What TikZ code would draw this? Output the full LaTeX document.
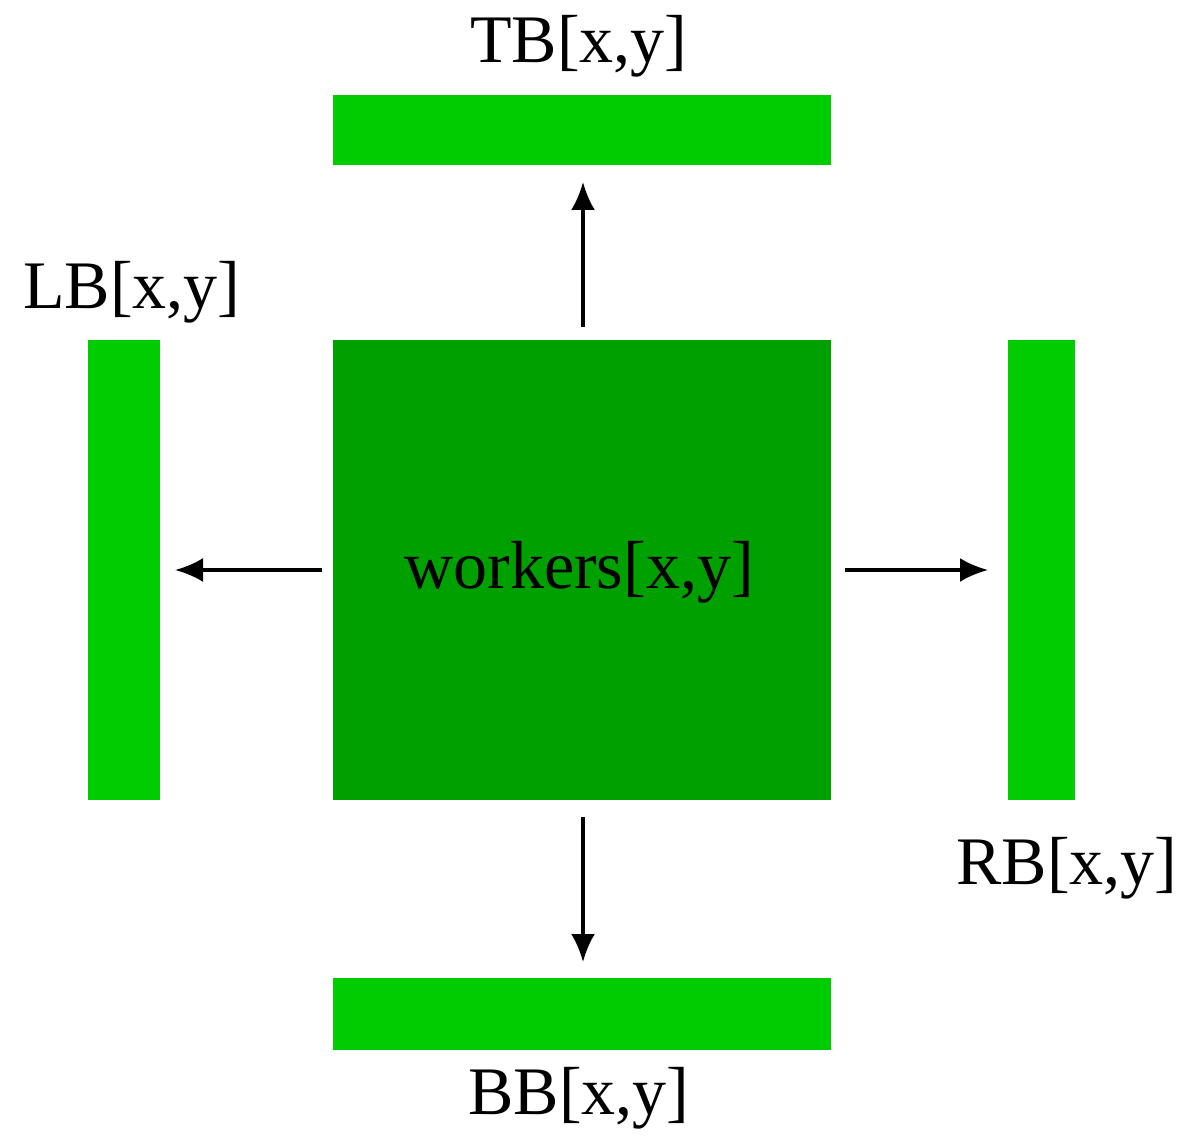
\documentclass[tikz,border=0pt]{standalone}
\usepackage{fontspec}
\setmainfont{Liberation Serif}
\usetikzlibrary{arrows.meta}
\definecolor{barg}{RGB}{0,204,0}
\definecolor{darkg}{RGB}{0,160,0}
\begin{document}
\begin{tikzpicture}[x=1pt,y=-1pt,
  bar/.style={fill=barg,inner sep=0pt,outer sep=0pt},
  lbl/.style={inner sep=0pt,font=\fontsize{68}{76}\selectfont},
  conn/.style={line width=3.5pt,-{Latex[length=28pt,width=24pt]}}]
\useasboundingbox (0,0) rectangle (1184,1147);
\fill[white] (0,0) rectangle (1184,1147);
\node[fill=darkg,inner sep=0pt,minimum width=498pt,minimum height=460pt] (W) at (582,570) {};
\node[lbl] (wt) at (579,572) {workers[x,y]};
\node[bar,minimum width=498pt,minimum height=70pt] (TB) at (582,130) {};
\node[bar,minimum width=498pt,minimum height=72pt] (BB) at (582,1014) {};
\node[bar,minimum width=72pt,minimum height=460pt] (LB) at (124,570) {};
\node[bar,minimum width=67pt,minimum height=460pt] (RB) at (1041.5,570) {};
\node[lbl] (tbl) at (579,46) {TB[x,y]};
\node[lbl] (lbl) at (132,292) {LB[x,y]};
\node[lbl] (rbl) at (1067,868) {RB[x,y]};
\node[lbl] (bbl) at (579,1098) {BB[x,y]};
\coordinate (tu0) at (583,327);
\coordinate (tu1) at (583,182);
\coordinate (tl0) at (322,570);
\coordinate (tl1) at (175,570);
\coordinate (tr0) at (845,570);
\coordinate (tr1) at (988,570);
\coordinate (td0) at (583,817);
\coordinate (td1) at (583,962);
\draw[conn] (tu0) -- (tu1);
\draw[conn] (tl0) -- (tl1);
\draw[conn] (tr0) -- (tr1);
\draw[conn] (td0) -- (td1);
\end{tikzpicture}
\end{document}
